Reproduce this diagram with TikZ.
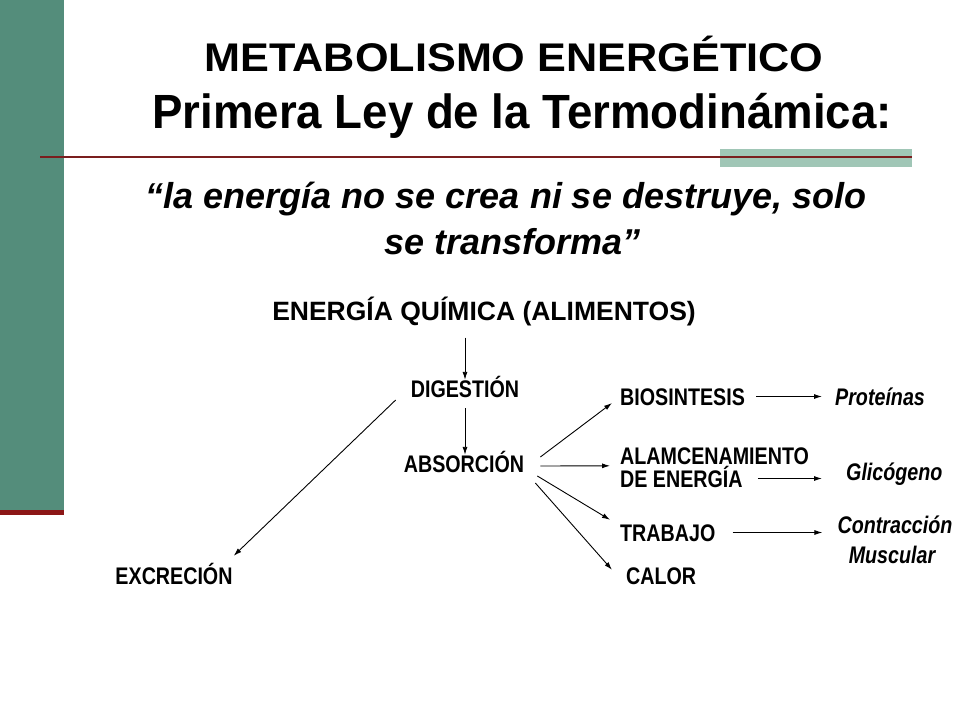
\documentclass[tikz,border=0pt]{standalone}
\usepackage{fontspec}
\setmainfont{Liberation Sans}
\newfontfamily\narrowfont[FakeStretch=0.82]{Liberation Sans}
\newfontfamily\tallfont[FakeStretch=0.95]{Liberation Sans}
\newfontfamily\widefont[FakeStretch=1.08]{Liberation Sans}
\usetikzlibrary{arrows.meta,calc}
\definecolor{slidegreen}{RGB}{84,141,123}
\definecolor{slidepale}{RGB}{160,198,182}
\definecolor{slidered}{RGB}{122,30,30}
\definecolor{slidedark}{RGB}{140,22,22}
\tikzset{
  lbl/.style={inner sep=0pt, text height=17pt, text depth=0pt,
              font=\narrowfont\fontsize{24}{28}\selectfont\bfseries},
  prod/.style={lbl, font=\narrowfont\fontsize{24}{28}\selectfont\bfseries\itshape},
  head/.style={inner sep=0pt, anchor=base},
  arr/.style={-{Latex[length=8pt,width=5pt]}, line width=0.9pt}
}
\begin{document}
\begin{tikzpicture}[x=1pt,y=-1pt]
  \fill[white] (0,0) rectangle (960,720);
  % slide frame
  \fill[slidegreen] (0,0) rectangle (64,510);
  \fill[slidedark] (0,510) rectangle (64,515);
  \fill[slidepale] (720,149) rectangle (912,167);
  \draw[slidered,line width=2.5pt] (40,157) -- (912,157);

  \node[head,font=\widefont\fontsize{40}{48}\selectfont\bfseries] (tit) at (514,71) {METABOLISMO ENERGÉTICO};
  \node[head,font=\tallfont\fontsize{48}{52}\selectfont\bfseries] (ley) at (522,128) {Primera Ley de la Termodinámica:};
  \node[head,font=\fontsize{36}{40}\selectfont\bfseries\itshape] (cita) at (506,208) {“la energía no se crea ni se destruye, solo};
  \node[head,font=\fontsize{36}{40}\selectfont\bfseries\itshape] (citb) at (513,254) {se transforma”};
  \node[head,font=\fontsize{26.5}{30}\selectfont\bfseries] (ener) at (484,320) {ENERGÍA QUÍMICA (ALIMENTOS)};

  \node[lbl,anchor=base] (dig) at (465,397) {DIGESTIÓN};
  \node[lbl,anchor=base] (abs) at (464,472) {ABSORCIÓN};
  \node[lbl,anchor=base] (exc) at (174,584) {EXCRECIÓN};
  \node[lbl,anchor=base west] (bio)  at (620,405) {BIOSINTESIS};
  \node[lbl,anchor=base west] (alm)  at (620,464) {ALAMCENAMIENTO};
  \node[lbl,anchor=base west] (almb) at (620,487) {DE ENERGÍA};
  \node[lbl,anchor=base west] (tra)  at (620,541) {TRABAJO};
  \node[lbl,anchor=base west] (cal)  at (626,584) {CALOR};
  \node[prod,anchor=base west] (pro) at (835,405) {Proteínas};
  \node[prod,anchor=base west] (gli) at (846,480) {Glicógeno};
  \node[prod,anchor=base] (con) at (895,533) {Contracción};
  \node[prod,anchor=base] (mus) at (892,563) {Muscular};

  \draw[arr,shorten <=12pt] (ener.south -| dig.north) -- (dig.north);
  \draw[arr,shorten <=11pt] (dig.south) -- (dig.south |- abs.north);
  \draw[arr] ($(dig.west)+(-15,11.5)$) -- ($(exc.north east)+(1,-11)$);

  \draw[arr] ($(abs.east)+(16,-6.5)$) -- ($(bio.west)+(-8,6.5)$);
  \draw[arr] ($(abs.east)+(16,2.5)$) -- ($(almb.north west)+(-10,-4)$);
  \draw[arr] ($(abs.east)+(13,12.5)$) -- ($(tra.north west)+(-10,-4)$);
  \draw[arr] ($(abs.east)+(11,19.5)$) -- ($(cal.north west)+(-14,3)$);

  \draw[arr,shorten <=11pt,shorten >=13pt] (bio.east) -- (bio.east -| pro.west);
  \draw[arr,shorten <=15pt,shorten >=24pt] (almb.east) -- (almb.east -| gli.west);
  \draw[arr,shorten <=17pt,shorten >=15pt] (tra.east) -- (tra.east -| con.west);
\end{tikzpicture}
\end{document}
